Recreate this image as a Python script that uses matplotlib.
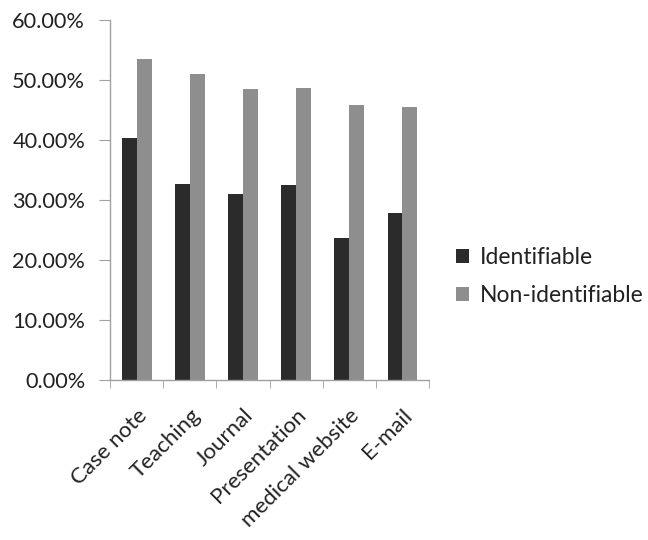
import matplotlib
matplotlib.use("Agg")
import matplotlib.pyplot as plt
import numpy as np
from matplotlib.ticker import FuncFormatter, FixedLocator

categories = ["Case note", "Teaching", "Journal", "Presentation", "medical website", "E-mail"]
identifiable = [40.4, 32.7, 31.1, 32.6, 23.7, 27.8]
non_identifiable = [53.6, 51.1, 48.5, 48.7, 45.8, 45.5]
series_names = ["Identifiable", "Non-identifiable"]
y_ticks = [0, 10, 20, 30, 40, 50, 60]

plt.rcParams['font.family'] = ['Lato', 'DejaVu Sans']

fig = plt.figure(figsize=(6.48, 5.40), dpi=100)
ax = fig.add_axes([0.170, 0.2963, 0.492, 0.6661])

x = np.arange(len(categories))
w = 0.28
ax.bar(x - w / 2, identifiable, w, color="#2b2b2b", label=series_names[0])
ax.bar(x + w / 2, non_identifiable, w, color="#8e8e8e", label=series_names[1])

ax.set_xlim(-0.5, len(categories) - 0.5)
ax.set_ylim(0, 60)
ax.set_yticks(y_ticks)
ax.yaxis.set_major_formatter(FuncFormatter(lambda v, p: f"{v:.2f}%"))

ax.set_xticks(x)
ax.set_xticklabels(categories, rotation=45, ha="right", rotation_mode="anchor")
ax.xaxis.set_minor_locator(FixedLocator(np.arange(-0.5, len(categories), 1.0)))
ax.tick_params(axis="x", which="major", length=0, pad=18, labelsize=16, labelcolor="#222222")
ax.tick_params(axis="x", which="minor", length=6, color="#a0a0a0", direction="out")
ax.tick_params(axis="y", length=8, color="#a0a0a0", labelsize=15.7, labelcolor="#222222", pad=10)

for s in ["top", "right"]:
    ax.spines[s].set_visible(False)
for s in ["left", "bottom"]:
    ax.spines[s].set_color("#a0a0a0")
    ax.spines[s].set_linewidth(1.0)

ax.legend(loc="center left", bbox_to_anchor=(1.02, 0.287), frameon=False,
          fontsize=16.5, handlelength=0.55, handleheight=0.55, handletextpad=0.5,
          labelspacing=0.75, labelcolor="#222222")

fig.savefig("out.png", dpi=100, facecolor="white")
